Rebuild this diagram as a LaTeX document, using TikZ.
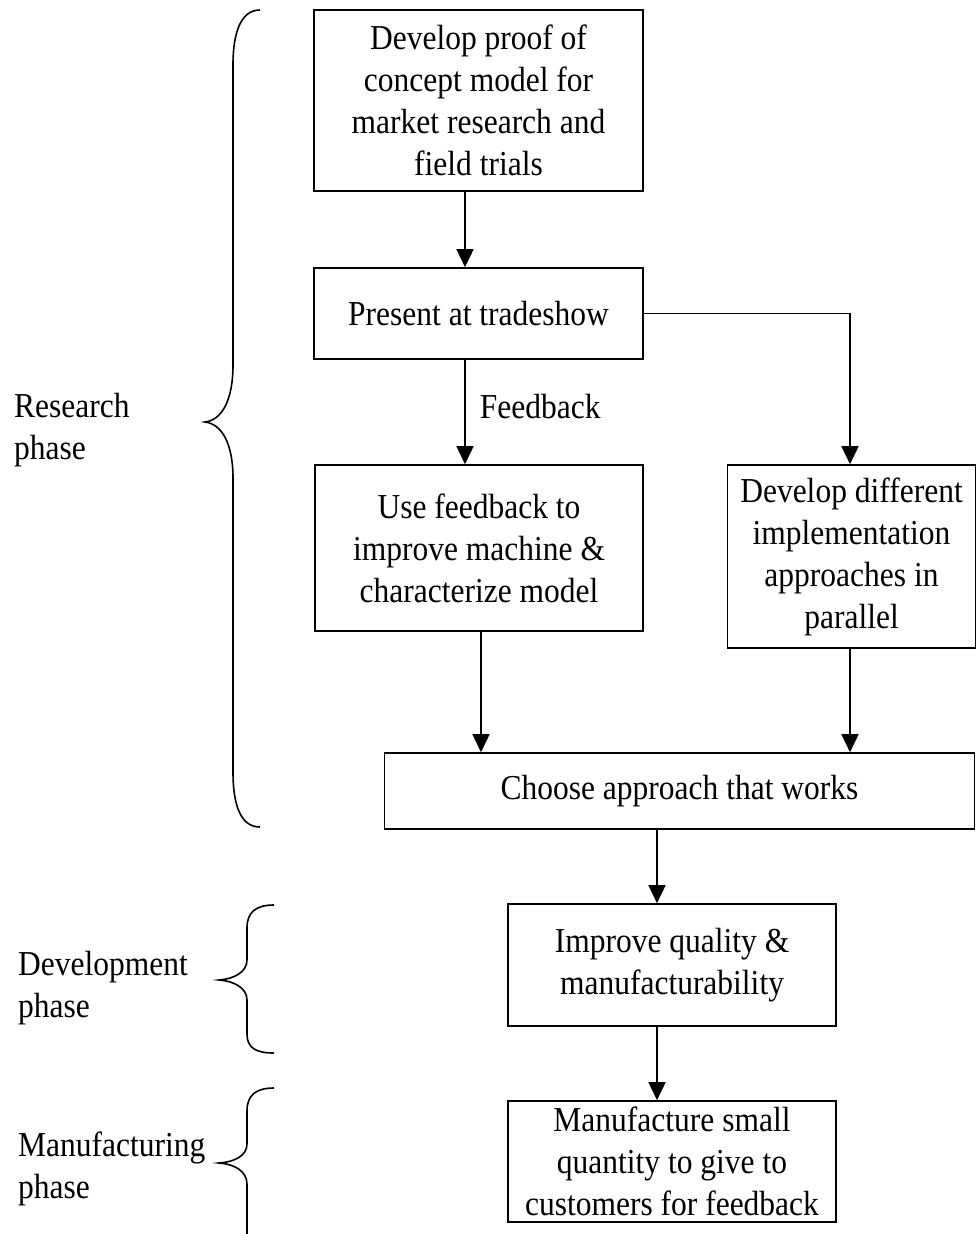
\documentclass[tikz,border=0pt]{standalone}
\usepackage{fontspec}
\setmainfont{Liberation Serif}[FakeStretch=0.9]
\usetikzlibrary{arrows.meta}
\begin{document}
\begin{tikzpicture}[x=1pt,y=-1pt,
  box/.style={draw,line width=1.6pt,align=center,inner sep=0pt,font=\fontsize{35}{42}\selectfont},
  lbl/.style={align=left,inner sep=0pt,anchor=west,font=\fontsize{35}{42}\selectfont},
  arr/.style={line width=1.6pt,-{Triangle[length=18pt,width=17pt]}},
  brace/.style={line width=1.6pt}]
\useasboundingbox (0,0) rectangle (977,1234);
\node[box,minimum width=329pt,minimum height=181pt] (b1) at (478.5,100.5) {Develop proof of\\concept model for\\market research and\\field trials};
\node[box,minimum width=329pt,minimum height=91pt] (b2) at (478.5,313.5) {Present at tradeshow};
\node[box,minimum width=328pt,minimum height=166pt] (b3) at (479,548) {Use feedback to\\improve machine \&\\characterize model};
\node[box,minimum width=248pt,minimum height=183pt] (b4) at (851.5,556.5) {Develop different\\implementation\\approaches in\\parallel};
\node[box,minimum width=590pt,minimum height=76pt] (b5) at (679.5,791) {Choose approach that works};
\node[box,minimum width=328pt,minimum height=122pt] (b6) at (672,965) {Improve quality \&\\manufacturability};
\node[box,minimum width=328pt,minimum height=121pt] (b7) at (672,1161.5) {Manufacture small\\quantity to give to\\customers for feedback};
\coordinate (xa) at (465,0);
\coordinate (xb) at (481,0);
\coordinate (xc) at (850,0);
\coordinate (xd) at (657,0);
\draw[arr] (b1.south -| xa) -- (b2.north -| xa);
\draw[arr] (b2.south -| xa) -- node[lbl,pos=0.45,xshift=14pt] (fb) {Feedback} (b3.north -| xa);
\draw[arr] (b2.east) -| (b4.north -| xc);
\draw[arr] (b3.south -| xb) -- (b5.north -| xb);
\draw[arr] (b4.south -| xc) -- (b5.north -| xc);
\draw[arr] (b5.south -| xd) -- (b6.north -| xd);
\draw[arr] (b6.south -| xd) -- (b7.north -| xd);
% braces
\draw[brace] (260,10) .. controls (242,10) and (233,30) .. (233,65) -- (233,365)
  .. controls (233,400) and (222,420) .. (205,422)
  .. controls (222,424) and (233,444) .. (233,478) -- (233,772)
  .. controls (233,808) and (242,827) .. (260,827);
\draw[brace] (274,905) .. controls (256,905) and (247,912) .. (247,928) -- (247,960)
  .. controls (247,972) and (234,979) .. (219,980)
  .. controls (234,981) and (247,988) .. (247,1000) -- (247,1034)
  .. controls (247,1048) and (256,1053) .. (274,1053);
\draw[brace] (274,1088) .. controls (256,1088) and (247,1095) .. (247,1111) -- (247,1144)
  .. controls (247,1156) and (234,1162) .. (219,1163)
  .. controls (234,1164) and (247,1171) .. (247,1184) -- (247,1234);
\node[lbl] (rp) at (14,430) {Research\\phase};
\node[lbl] (dp) at (18,988) {Development\\phase};
\node[lbl] (mp) at (18,1169) {Manufacturing\\phase};
\end{tikzpicture}
\end{document}
